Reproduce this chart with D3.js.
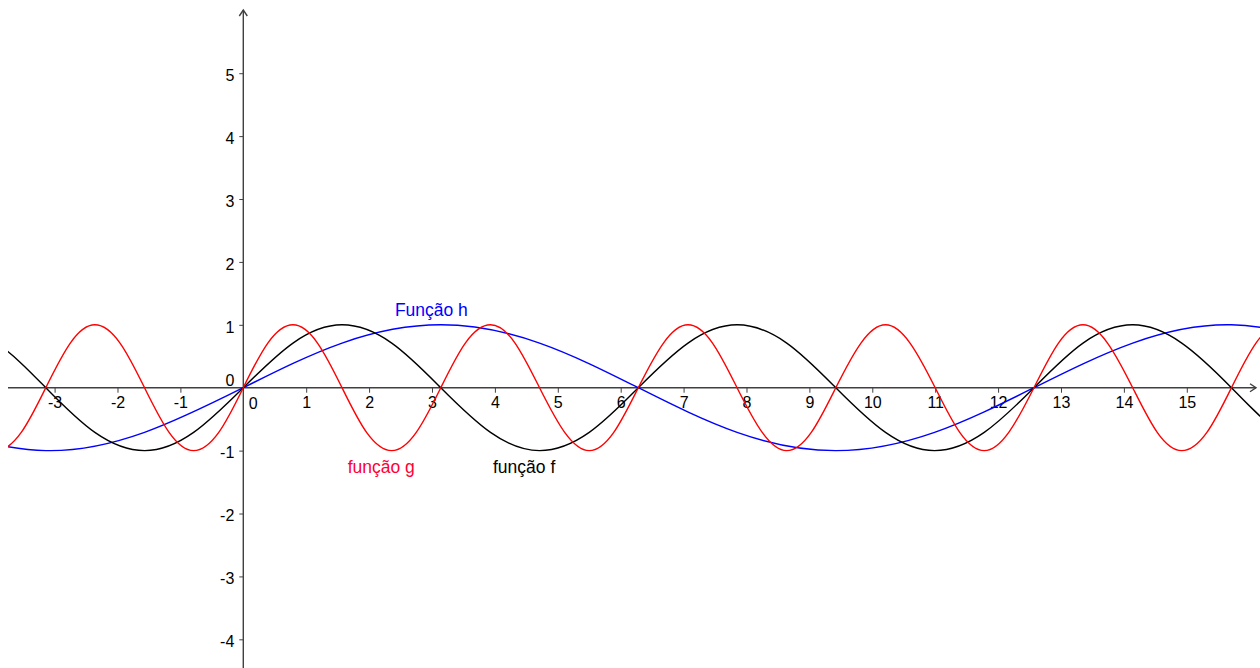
<!DOCTYPE html>
<html>
<head>
<meta charset="utf-8">
<script src="https://cdn.jsdelivr.net/npm/d3@7"></script>
<style>
  html, body { margin: 0; padding: 0; background: #fff; }
  svg { display: block; font-family: "Liberation Sans", Arial, sans-serif; }
</style>
</head>
<body>
<div id="main"></div>
<script>
var fX = [-4.71,-3.93,-3.14,-2.36,-1.57,-0.79,0,0.79,1.57,2.36,3.14,3.93,4.71,5.50,6.28,7.07,7.85,8.64,9.42,10.21,10.99,11.78,12.57,13.35,14.14,14.92,15.71,16.49,17.28];
var fY = [1,0.71,0,-0.71,-1,-0.71,0,0.71,1,0.71,0,-0.71,-1,-0.71,0,0.71,1,0.71,0,-0.71,-1,-0.71,0,0.71,1,0.71,0,-0.71,-1];

var gX = [-4.71,-4.32,-3.93,-3.53,-3.14,-2.75,-2.36,-1.96,-1.57,-1.18,-0.79,-0.39,0,0.39,0.79,1.18,1.57,1.96,2.36,2.75,3.14,3.53,3.93,4.32,4.71,5.11,5.50,5.89,6.28,6.68,7.07,7.46,7.85,8.25,8.64,9.03,9.42,9.82,10.21,10.60,11.00,11.39,11.78,12.17,12.57,12.96,13.35,13.74,14.14,14.53,14.92,15.32,15.71,16.10,16.49,16.89,17.28];
var gY = [0,-0.71,-1,-0.71,
          0,0.71,1,0.71,0,-0.71,-1,-0.71,
          0,0.71,1,0.71,0,-0.71,-1,-0.71,
          0,0.71,1,0.71,0,-0.71,-1,-0.71,
          0,0.71,1,0.71,0,-0.71,-1,-0.71,
          0,0.71,1,0.71,0,-0.71,-1,-0.71,
          0,0.71,1,0.71,0,-0.71,-1,-0.71,
          0,0.71,1,0.71,0];

var hX = [-4.71,-3.14,-1.57,0,1.57,3.14,4.71,6.28,7.85,9.42,10.99,12.57,14.14,15.71,17.28];
var hY = [-0.71,-1,-0.71,0,0.71,1,0.71,0,-0.71,-1,-0.71,0,0.71,1,0.71];

var xTicks = [-3,-2,-1,1,2,3,4,5,6,7,8,9,10,11,12,13,14,15];
var yTicks = [-4,-3,-2,-1,1,2,3,4,5];

var labelNames = ["Função h", "função g", "função f"];
var labelX = [2.41, 1.66, 3.97];
var labelY = [1.14, -1.36, -1.36];

var ctx = {
    w: 1260,
    h: 668,
    left: 8,
    AXIS: "#404040",
    TICK_FONT: 16,
    LABEL_COLORS: ["#0000ff", "#ff0033", "#000000"],
};

var createViz = function(){
    var svgEl = d3.select("#main").append("svg")
        .attr("width", ctx.w)
        .attr("height", ctx.h);

    ctx.x = d3.scaleLinear().domain([-3.868, 16.164]).range([0, ctx.w]);
    ctx.y = d3.scaleLinear().domain([6.164, -4.456]).range([0, ctx.h]);
    var x0 = ctx.x(0), y0 = ctx.y(0);

    svgEl.append("defs").append("clipPath").attr("id", "plotClip")
        .append("rect")
        .attr("x", ctx.left).attr("y", 0)
        .attr("width", ctx.w - ctx.left).attr("height", ctx.h);

    // x axis ticks + labels
    var xAxis = svgEl.append("g")
        .attr("transform", "translate(0," + y0 + ")")
        .call(d3.axisBottom(ctx.x).tickValues(xTicks).tickSize(5).tickPadding(4)
              .tickFormat(d3.format("d")).tickSizeOuter(0));
    xAxis.select(".domain").remove();
    xAxis.selectAll("line").attr("stroke", ctx.AXIS).attr("stroke-width", 1);
    xAxis.selectAll("text").attr("fill", "#000").attr("font-size", ctx.TICK_FONT)
        .attr("font-family", "Liberation Sans, Arial, sans-serif")
        .text(d => d < 0 ? "-" + Math.abs(d) : d);

    // y axis ticks + labels
    var yAxis = svgEl.append("g")
        .attr("transform", "translate(" + x0 + ",0)")
        .call(d3.axisLeft(ctx.y).tickValues(yTicks).tickSize(4).tickPadding(5)
              .tickFormat(d3.format("d")).tickSizeOuter(0));
    yAxis.select(".domain").remove();
    yAxis.selectAll("line").attr("stroke", ctx.AXIS).attr("stroke-width", 1);
    yAxis.selectAll("text").attr("fill", "#000").attr("font-size", ctx.TICK_FONT)
        .attr("font-family", "Liberation Sans, Arial, sans-serif")
        .attr("dy", "0.45em")
        .text(d => d < 0 ? "-" + Math.abs(d) : d);

    // zero labels
    svgEl.append("text").attr("x", x0 - 9).attr("y", y0 - 2)
        .attr("text-anchor", "end").attr("font-size", ctx.TICK_FONT).text("0");
    svgEl.append("text").attr("x", x0 + 10).attr("y", y0 + 21)
        .attr("text-anchor", "middle").attr("font-size", ctx.TICK_FONT).text("0");

    // axis lines with arrows
    var axes = svgEl.append("g").attr("stroke", ctx.AXIS)
        .attr("stroke-width", 1.4).attr("fill", "none");
    axes.append("line").attr("x1", ctx.left).attr("x2", ctx.w - 4)
        .attr("y1", y0).attr("y2", y0);
    axes.append("path").attr("d", "M" + (ctx.w - 10) + "," + (y0 - 4) +
        "L" + (ctx.w - 4) + "," + y0 + "L" + (ctx.w - 10) + "," + (y0 + 4));
    axes.append("line").attr("x1", x0).attr("x2", x0)
        .attr("y1", ctx.h).attr("y2", 10);
    axes.append("path").attr("d", "M" + (x0 - 4) + ",16L" + x0 + ",10L" + (x0 + 4) + ",16");

    // curves
    var line = d3.line()
        .x(d => ctx.x(d[0]))
        .y(d => ctx.y(d[1]))
        .curve(d3.curveNatural);

    var series = [
        {name: "h", xs: hX, ys: hY, color: "#0000ff"},
        {name: "f", xs: fX, ys: fY, color: "#000000"},
        {name: "g", xs: gX, ys: gY, color: "#ff0000"},
    ];
    var curves = svgEl.append("g").attr("clip-path", "url(#plotClip)");
    series.forEach(function(s){
        curves.append("path")
            .datum(s.xs.map((v, i) => [v, s.ys[i]]))
            .attr("d", line)
            .attr("fill", "none")
            .attr("stroke", s.color)
            .attr("stroke-width", 1.4);
    });

    // function labels
    svgEl.selectAll(".flabel").data(labelNames).enter().append("text")
        .attr("class", "flabel")
        .attr("x", (d, i) => ctx.x(labelX[i]))
        .attr("y", (d, i) => ctx.y(labelY[i]))
        .attr("font-size", 17.5)
        .attr("fill", (d, i) => ctx.LABEL_COLORS[i])
        .text(d => d);
};

createViz();
</script>
</body>
</html>
